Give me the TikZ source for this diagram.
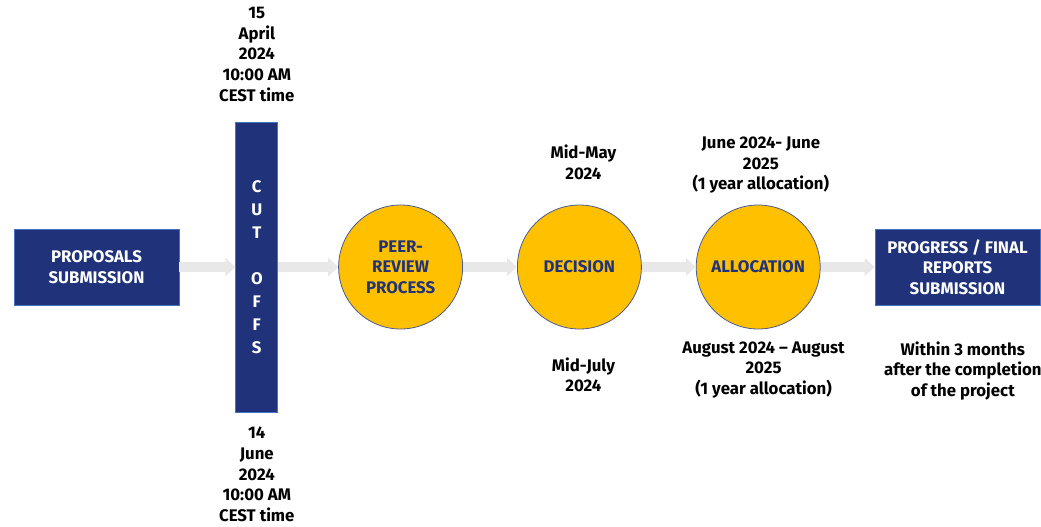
\documentclass[tikz,border=0pt]{standalone}
\usepackage{fontspec}
\setmainfont{Fira Sans}
\usepackage{tikz}
\usetikzlibrary{arrows.meta, positioning, shapes.geometric}

\definecolor{euNavy}{RGB}{31,50,122}
\definecolor{euEdge}{RGB}{68,114,196}
\definecolor{euGold}{RGB}{255,192,0}
\definecolor{arrowGrey}{RGB}{232,232,232}

\begin{document}
\begin{tikzpicture}[
    x=0.75pt, y=-0.75pt,
    every node/.style={align=center},
    stagebox/.style={rectangle, minimum width=123.75pt, minimum height=57pt, inner sep=0pt, text centered, draw=euEdge, line width=0.6pt, fill=euNavy, text=white, font=\fontsize{12.6}{15.4}\selectfont\bfseries},
    cutbar/.style={rectangle, minimum width=31.5pt, minimum height=217.5pt, inner sep=0pt, draw=euEdge, line width=0.6pt, fill=euNavy, text=white, font=\fontsize{12.6}{17.25}\selectfont\bfseries},
    phase/.style={circle, minimum size=93pt, inner sep=0pt, text centered, draw=euNavy!80, line width=0.6pt, fill=euGold, text=euNavy, font=\fontsize{12.6}{15.4}\selectfont\bfseries},
    datelabel/.style={inner sep=0pt, text=black, font=\fontsize{12.6}{15.4}\selectfont\bfseries},
    arrow/.style={draw=arrowGrey, line width=7.5pt, -{Triangle[length=7.5pt, width=13.5pt]}}
]
\useasboundingbox (0,0) rectangle (1041,526);

% Submission
\node (proposals) [stagebox] at (96.5,267) {PROPOSALS\\SUBMISSION};

% Cut-off bar and dates
\node (cutoffs) [cutbar, right=42pt of proposals] {C\\U\\T\\~\\O\\F\\F\\S};
\node (cuttop) [datelabel, above=15pt of cutoffs] {15\\April\\2024\\10:00 AM\\CEST time};
\node (cutbottom) [datelabel, below=11pt of cutoffs] {14\\June\\2024\\10:00 AM\\CEST time};

% Evaluation
\node (review) [phase, right=45pt of cutoffs] {PEER-\\REVIEW\\PROCESS};
\node (decision) [phase, right=40.5pt of review] {DECISION};
\node (allocation) [phase, right=40.5pt of decision] {ALLOCATION};

% Reporting
\node (reports) [stagebox, right=40.5pt of allocation] {PROGRESS / FINAL\\REPORTS\\SUBMISSION};

% Dates around the circles
\node (decisiontop) [datelabel, above=18.5pt of decision, xshift=3pt] {Mid-May\\2024};
\node (decisionbottom) [datelabel, below=21pt of decision, xshift=3pt] {Mid-July\\2024};
\node (allocationtop) [datelabel, above=8pt of allocation, xshift=2pt] {June 2024- June\\2025\\(1 year allocation)};
\node (allocationbottom) [datelabel, below=9pt of allocation, xshift=4pt] {August 2024 – August\\2025\\(1 year allocation)};
\node (reportsbottom) [datelabel, below=27pt of reports, xshift=4pt] {Within 3 months\\after the completion\\of the project};

% Arrows
\draw [arrow] (proposals) -- (cutoffs);
\draw [arrow] (cutoffs) -- (review);
\draw [arrow] (review) -- (decision);
\draw [arrow] (decision) -- (allocation);
\draw [arrow] (allocation) -- (reports);

\end{tikzpicture}
\end{document}
